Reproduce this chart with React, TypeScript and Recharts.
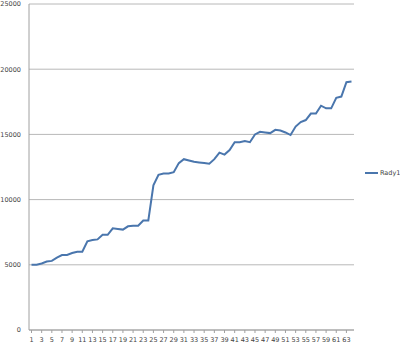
import { CartesianGrid, Line, LineChart, XAxis, YAxis } from "recharts";

const categories = Array.from({ length: 64 }, (_, i) => String(i + 1));

const rady1 = [
	5000, 5000, 5100, 5250, 5300, 5550, 5750, 5750, 5900, 6000,
	6000, 6800, 6900, 6950, 7300, 7300, 7800, 7750, 7700, 7950,
	8000, 8000, 8400, 8400, 11100, 11900, 12000, 12000, 12100, 12800,
	13100, 13000, 12900, 12850, 12800, 12750, 13100, 13600, 13450, 13800,
	14400, 14400, 14500, 14400, 15000, 15200, 15150, 15100, 15350, 15300,
	15150, 14950, 15600, 15950, 16100, 16600, 16600, 17200, 17000, 17000,
	17800, 17900, 19000, 19050,
];

const yTicks = [0, 5000, 10000, 15000, 20000, 25000];

const data = categories.map((name, i) => ({ name, rady1: rady1[i] }));

const font = "'DejaVu Sans', sans-serif";

export default function App() {
	return (
		<div style={{ position: "absolute", left: 0, top: 0, width: 400, height: 350, background: "#fff" }}>
			<LineChart
				width={400}
				height={350}
				data={data}
				margin={{ top: 4, right: 46, left: 0, bottom: 0 }}
			>
				<CartesianGrid vertical={false} stroke="#b8b8b8" />
				<XAxis
					dataKey="name"
					interval={1}
					height={20}
					padding={{ left: 2.5, right: 2.5 }}
					stroke="#a0a0a0"
					tickSize={3}
					tickMargin={4}
					tick={{ fontSize: 6.5, fill: "#444", fontFamily: font }}
				/>
				<YAxis
					width={29}
					domain={[0, 25000]}
					ticks={yTicks}
					stroke="#a0a0a0"
					tickLine={false}
					tick={{ fontSize: 6.5, fill: "#444", fontFamily: font }}
				/>
				<Line
					type="linear"
					dataKey="rady1"
					stroke="#4a76ad"
					strokeWidth={2}
					dot={false}
					isAnimationActive={false}
				/>
			</LineChart>
			<div
				style={{
					position: "absolute",
					left: 365,
					top: 169,
					display: "flex",
					alignItems: "center",
					fontFamily: font,
					fontSize: 6.5,
					color: "#444",
				}}
			>
				<span style={{ display: "inline-block", width: 13, height: 2, background: "#4a76ad", marginRight: 2 }} />
				Rady1
			</div>
		</div>
	);
}
